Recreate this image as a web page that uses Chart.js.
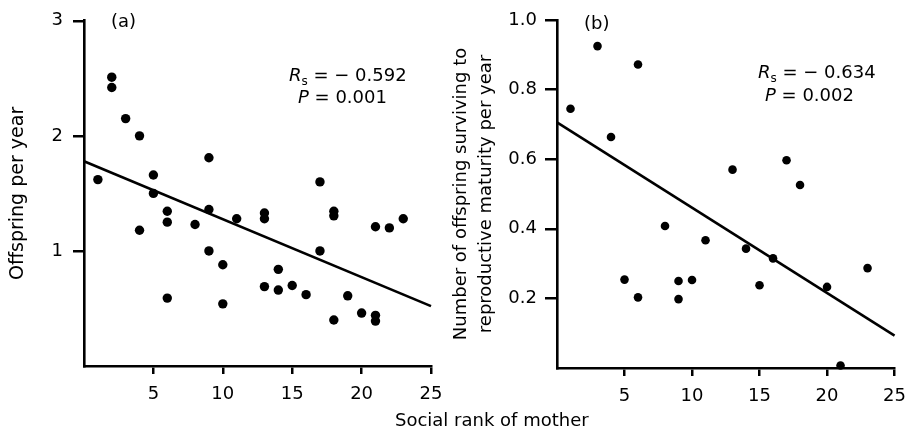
<!DOCTYPE html>
<html><head><meta charset="utf-8">
<script src="https://cdn.jsdelivr.net/npm/chart.js@4"></script>
<style>
html,body{margin:0;padding:0;background:#fff;width:916px;height:435px;overflow:hidden;}
#wrap{position:relative;width:916px;height:435px;}
canvas{position:absolute;top:0;}
#ca{left:0;}
#cb{left:440px;}
#xt{position:absolute;left:395px;top:409px;font:18px 'DejaVu Sans';color:#000;white-space:nowrap;}
</style></head><body>
<div id="wrap">
<canvas id="ca" width="458" height="435"></canvas>
<canvas id="cb" width="476" height="435"></canvas>
<div id="xt">Social rank of mother</div>
</div>
<script>
// Panel (a): offspring per year vs social rank of mother
const rankA = [1,2,2,3,4,4,5,5,6,6,6,8,9,9,9,10,10,11,13,13,13,14,14,15,16,17,17,18,18,18,19,20,21,21,21,22,23];
const offspringA = [1.62,2.51,2.42,2.15,2.00,1.18,1.66,1.50,1.345,1.25,0.59,1.23,1.81,1.36,1.00,0.88,0.54,1.28,1.33,1.28,0.69,0.84,0.66,0.70,0.62,1.60,1.00,1.345,1.305,0.40,0.61,0.46,1.21,0.44,0.39,1.20,1.28];
// Panel (b): offspring surviving to reproductive maturity per year
const rankB = [1,3,4,5,6,6,8,9,9,10,11,13,14,15,16,17,18,20,21,23];
const survivalB = [0.745,0.925,0.664,0.254,0.872,0.203,0.408,0.250,0.198,0.253,0.367,0.570,0.343,0.238,0.315,0.597,0.526,0.233,0.007,0.287];
// Regression lines (end points)
const fitRank = [0,25];
const fitA = [1.78,0.52];
const fitB = [0.706,0.093];
// Tick values / labels
const xTicks = [5,10,15,20,25];
const yTicksA = [1,2,3];
const yTicksB = [0.2,0.4,0.6,0.8,1.0];
const yLabelsB = ['0.2','0.4','0.6','0.8','1.0'];
// Stats text
const statsA = {letter:'(a)', rs:'\u2212 0.592', p:'0.001'};
const statsB = {letter:'(b)', rs:'\u2212 0.634', p:'0.002'};

const FONT = "'DejaVu Sans'";
Chart.defaults.font.family = FONT;
Chart.defaults.color = '#000';

function pts(xs, ys){ return xs.map((x,i)=>({x:x, y:ys[i]})); }

const statsPlugin = {
  id:'stats',
  afterDraw(chart, args, o){
    const ctx = chart.ctx, a = chart.chartArea;
    ctx.save();
    ctx.fillStyle = '#000';
    ctx.textBaseline = 'alphabetic';
    ctx.textAlign = 'left';
    ctx.font = "18px " + FONT;
    ctx.fillText(o.s.letter, a.left + o.letterDx, o.letterY);
    let x = a.left + o.rDx, y = o.rY;
    ctx.font = "italic 18px " + FONT; ctx.fillText('R', x, y); x += ctx.measureText('R').width;
    ctx.font = "12px " + FONT; ctx.fillText('s', x, y + 4); x += ctx.measureText('s').width;
    ctx.font = "18px " + FONT; ctx.fillText(' = ' + o.s.rs, x, y);
    x = a.left + o.pDx; y = o.pY;
    ctx.font = "italic 18px " + FONT; ctx.fillText('P', x, y); x += ctx.measureText('P').width;
    ctx.font = "18px " + FONT; ctx.fillText(' = ' + o.s.p, x, y);
    ctx.restore();
  }
};

function makeChart(id, cfg){
  const tickFont = {family: FONT, size: 18};
  return new Chart(document.getElementById(id), {
    type: 'scatter',
    data: {
      datasets: [
        {data: pts(cfg.xs, cfg.ys), backgroundColor:'#000', borderWidth:0, pointRadius:cfg.r, pointHoverRadius:cfg.r, clip:false},
        {type:'line', data: pts(fitRank, cfg.fit), borderColor:'#000', borderWidth:2.6, pointRadius:0, fill:false, clip:false}
      ]
    },
    plugins: [statsPlugin],
    options: {
      responsive:false, animation:false, devicePixelRatio:1,
      layout:{autoPadding:false, padding:{left:0, right:cfg.padRight, top:cfg.padTop, bottom:0}},
      plugins:{legend:{display:false}, tooltip:{enabled:false}, stats:cfg.stats},
      scales:{
        x:{
          type:'linear', min:0, max:25,
          afterBuildTicks: s => { s.ticks = xTicks.map(v=>({value:v})); },
          afterFit: s => { s.height = cfg.xH; },
          grid:{drawOnChartArea:false, drawTicks:true, tickLength:8, color:'#000', lineWidth:2.5},
          border:{display:true, color:'#000', width:2.6},
          ticks:{font:tickFont, padding:10, maxRotation:0, color:'#000'}
        },
        y:{
          type:'linear', min:0, max:cfg.ymax,
          afterBuildTicks: s => { s.ticks = cfg.yt.map(v=>({value:v})); },
          afterFit: s => { s.width = cfg.yW; },
          grid:{drawOnChartArea:false, drawTicks:true, tickLength:cfg.yTL, color:'#000', lineWidth:2.5},
          border:{display:true, color:'#000', width:2.6},
          ticks:{font:tickFont, padding:cfg.yPad, color:'#000', callback: (v, i) => cfg.yl ? cfg.yl[i] : String(v)},
          title:{display:true, text:cfg.title, font:{family:FONT, size:cfg.titleSize, lineHeight:cfg.titleLH}, color:'#000', padding:{top:cfg.titlePad, bottom:0}}
        }
      }
    }
  });
}

makeChart('ca', {
  xs: rankA, ys: offspringA, fit: fitA, r: 4.7, ymax: 3, yt: yTicksA, yl: null,
  padRight: 27, padTop: 19, xH: 69, yW: 84, yTL: 11, yPad: 10, titlePad: 7, titleSize: 19, titleLH: 1.2,
  title: 'Offspring per year',
  stats: {s: statsA, letterDx: 27, letterY: 27, rDx: 205, rY: 81, pDx: 214, pY: 103}
});
makeChart('cb', {
  xs: rankB, ys: survivalB, fit: fitB, r: 4.3, ymax: 1.0, yt: yTicksB, yl: yLabelsB,
  padRight: 12, padTop: 20, xH: 67, yW: 117, yTL: 12, yPad: 8, titlePad: 9, titleSize: 18, titleLH: 1.4,
  title: ['Number of offspring surviving to', 'reproductive maturity per year'],
  stats: {s: statsB, letterDx: 27, letterY: 29, rDx: 201, rY: 78, pDx: 208, pY: 101}
});
</script>
</body></html>
